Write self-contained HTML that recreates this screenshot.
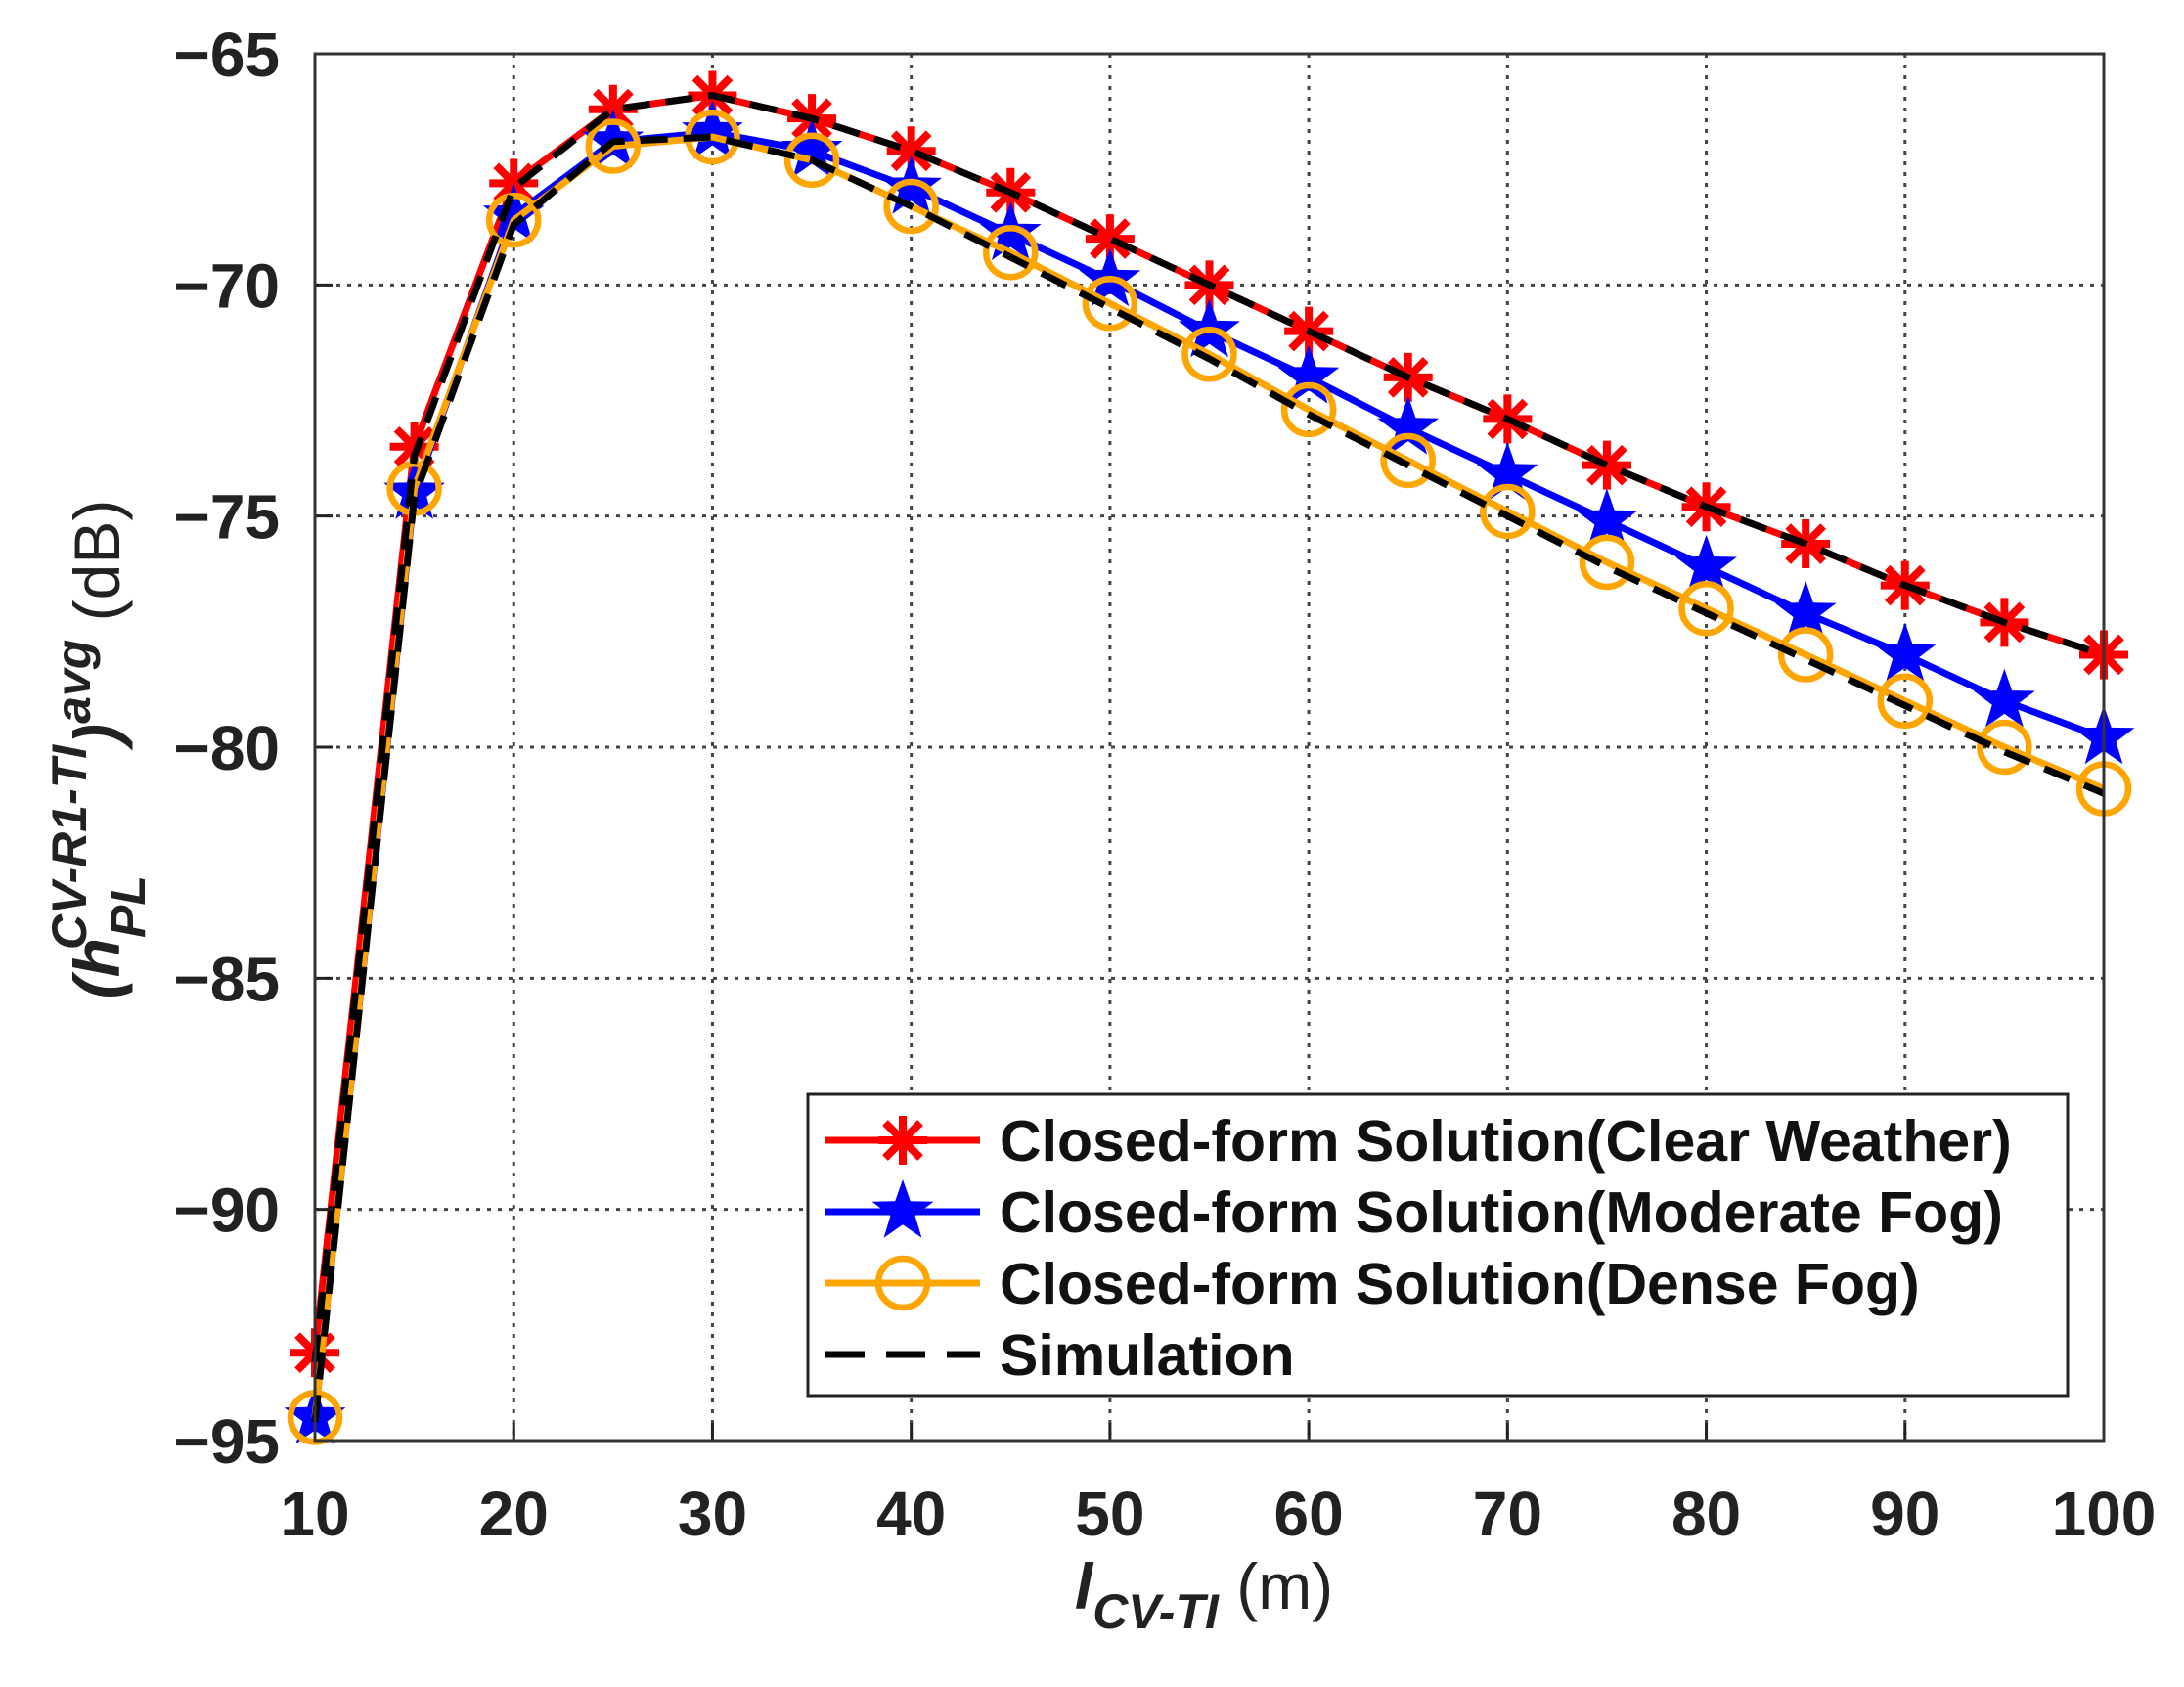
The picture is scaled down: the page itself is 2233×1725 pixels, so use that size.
<!DOCTYPE html>
<html><head><meta charset="utf-8"><style>
html,body{margin:0;padding:0;background:#fff;}
svg text{font-family:"Liberation Sans",Arial,sans-serif;}
</style></head><body>
<svg id="chart" width="2233" height="1720" viewBox="0 0 2233 1720" xmlns="http://www.w3.org/2000/svg">
<rect width="2233" height="1720" fill="#fff"/>
<g id="grid"></g>
<g id="series"></g>
<g id="axes"></g>
<text transform="translate(122,766) rotate(-90)" text-anchor="middle" font-size="66" fill="#222"><tspan font-weight="bold" font-style="italic">(h</tspan><tspan font-weight="bold" font-style="italic" font-size="50" dy="26">PL</tspan><tspan font-weight="bold" font-style="italic" font-size="50" dx="-76" dy="-60">CV-R1-TI</tspan><tspan font-weight="bold" font-style="italic" dy="34">)</tspan><tspan font-weight="bold" font-style="italic" font-size="50" dy="-30">avg</tspan><tspan dy="30"> (dB)</tspan></text>
<text x="1231" y="1645" text-anchor="middle" font-size="66" fill="#222"><tspan font-weight="bold" font-style="italic">l</tspan><tspan font-weight="bold" font-style="italic" font-size="50" dy="20">CV-TI</tspan><tspan dy="-20"> (m)</tspan></text>
<g id="legend"></g>
</svg>
<script>
const xValues=[10,15,20,25,30,35,40,45,50,55,60,65,70,75,80,85,90,95,100];
const clearWeather=[-93.1,-73.5,-67.8,-66.2,-65.9,-66.4,-67.1,-68.0,-69.0,-70.0,-71.0,-72.0,-72.9,-73.9,-74.8,-75.6,-76.5,-77.3,-78.0];
const moderateFog=[-94.5,-74.5,-68.5,-66.9,-66.7,-67.1,-67.9,-68.9,-69.9,-71.0,-72.0,-73.1,-74.1,-75.1,-76.1,-77.1,-78.0,-79.0,-79.8];
const denseFog=[-94.5,-74.4,-68.6,-67.0,-66.8,-67.3,-68.3,-69.3,-70.4,-71.5,-72.7,-73.8,-74.9,-76.0,-77.0,-78.0,-79.0,-80.0,-80.9];
const simulationUpper=[-93.3,-73.7,-67.9,-66.2,-65.9,-66.4,-67.1,-68.0,-69.0,-70.0,-71.0,-72.0,-72.9,-73.9,-74.8,-75.6,-76.5,-77.3,-78.0];
const simulationLower=[-94.6,-74.6,-68.7,-66.9,-66.8,-67.3,-68.3,-69.4,-70.5,-71.6,-72.8,-73.9,-75.0,-76.1,-77.1,-78.1,-79.1,-80.1,-81.0];
const xTicks=[10,20,30,40,50,60,70,80,90,100];
const yTicks=[-65,-70,-75,-80,-85,-90,-95];
const legendLabels=["Closed-form Solution(Clear Weather)","Closed-form Solution(Moderate Fog)","Closed-form Solution(Dense Fog)","Simulation"];

const L=322,R=2151,T=55,B=1473;
const X=v=>L+(v-10)/90*(R-L);
const Y=v=>T+(-65-v)/30*(B-T);
const NS="http://www.w3.org/2000/svg";
function mk(tag,attrs,parent){const e=document.createElementNS(NS,tag);for(const k in attrs)e.setAttribute(k,attrs[k]);parent.appendChild(e);return e;}
const grid=document.getElementById('grid'),axes=document.getElementById('axes'),ser=document.getElementById('series'),leg=document.getElementById('legend');

xTicks.forEach(t=>{
  const g=mk('line',{x1:X(t),x2:X(t),y1:T,y2:B,stroke:'#444','stroke-width':3,'stroke-dasharray':'4 7'},grid);
  
  
  const tk=mk('line',{x1:X(t),x2:X(t),y1:B,y2:B-18,stroke:'#222','stroke-width':3},axes);
  
  
  const tx=mk('text',{x:X(t),y:1570,'text-anchor':'middle','font-size':64,'font-weight':'bold',fill:'#222'},axes);
  tx.textContent=t;
  
  
});
yTicks.forEach(t=>{
  const g=mk('line',{x1:L,x2:R,y1:Y(t),y2:Y(t),stroke:'#444','stroke-width':3,'stroke-dasharray':'4 7'},grid);
  
  
  const tk=mk('line',{x1:L,x2:L+18,y1:Y(t),y2:Y(t),stroke:'#222','stroke-width':3},axes);
  
  
  const tx=mk('text',{x:286,y:Y(t)+23,'text-anchor':'end','font-size':64,'font-weight':'bold',fill:'#222'},axes);
  tx.textContent='\u2212'+Math.abs(t);
  
  
});
const frame=mk('rect',{x:L,y:T,width:R-L,height:B-T,fill:'none',stroke:'#333','stroke-width':3},axes);



function starPath(cx,cy,r){let d='';for(let i=0;i<10;i++){const a=-Math.PI/2+i*Math.PI/5;const rr=i%2?r*0.4:r;d+=(i?'L':'M')+(cx+rr*Math.cos(a)).toFixed(1)+','+(cy+rr*Math.sin(a)).toFixed(1);}return d+'Z';}
function asterisk(cx,cy,r,parent){const g=mk('g',{stroke:'#ff0000','stroke-width':8},parent);
  [[0,1],[1,0],[0.72,0.72],[0.72,-0.72]].forEach(([a,b])=>mk('line',{x1:cx-r*a,y1:cy-r*b,x2:cx+r*a,y2:cy+r*b},g));return g;}
function drawMarker(type,cx,cy,parent){
  if(type==='ast') return asterisk(cx,cy,25,parent);
  if(type==='star') return mk('path',{d:starPath(cx,cy,33),fill:'#0000ff'},parent);
  return mk('circle',{cx:cx,cy:cy,r:25,fill:'none',stroke:'#ffa500','stroke-width':6.5},parent);
}
function drawSeries(vals,color,type,name){
  const g=mk('g',{},ser);
  
  
  const pts=vals.map((v,i)=>X(xValues[i])+','+Y(v)).join(' ');
  mk('polyline',{points:pts,fill:'none',stroke:color,'stroke-width':7,'stroke-linejoin':'round'},g);
  vals.forEach((v,i)=>{const m=drawMarker(type,X(xValues[i]),Y(v),g);
    
    });
}
drawSeries(clearWeather,'#ff0000','ast','clear-weather-series');
drawSeries(moderateFog,'#0000ff','star','moderate-fog-series');
drawSeries(denseFog,'#ffa500','circ','dense-fog-series');
[simulationUpper,simulationLower].forEach((s,k)=>{
  const p=mk('polyline',{points:s.map((v,i)=>X(xValues[i])+','+Y(v)).join(' '),fill:'none',stroke:'#000','stroke-width':7,'stroke-dasharray':'28 16'},ser);
  
  
});

const box=mk('rect',{x:826,y:1119,width:1288,height:308,fill:'#fff',stroke:'#222','stroke-width':3},leg);


const lc=['#ff0000','#0000ff','#ffa500','#000'],lt=['ast','star','circ',null];
legendLabels.forEach((lab,i)=>{
  const y=1166+i*73;
  const g=mk('g',{},leg);
  
  
  const attrs={x1:844,x2:1002,y1:y,y2:y,stroke:lc[i],'stroke-width':7};
  if(i===3)attrs['stroke-dasharray']='40 22';
  mk('line',attrs,g);
  if(lt[i])drawMarker(lt[i],923,y,g);
  const t=mk('text',{x:1022,y:y+21,'font-size':59,'font-weight':'bold',fill:'#111'},g);
  t.textContent=lab;
});
</script>
</body></html>
